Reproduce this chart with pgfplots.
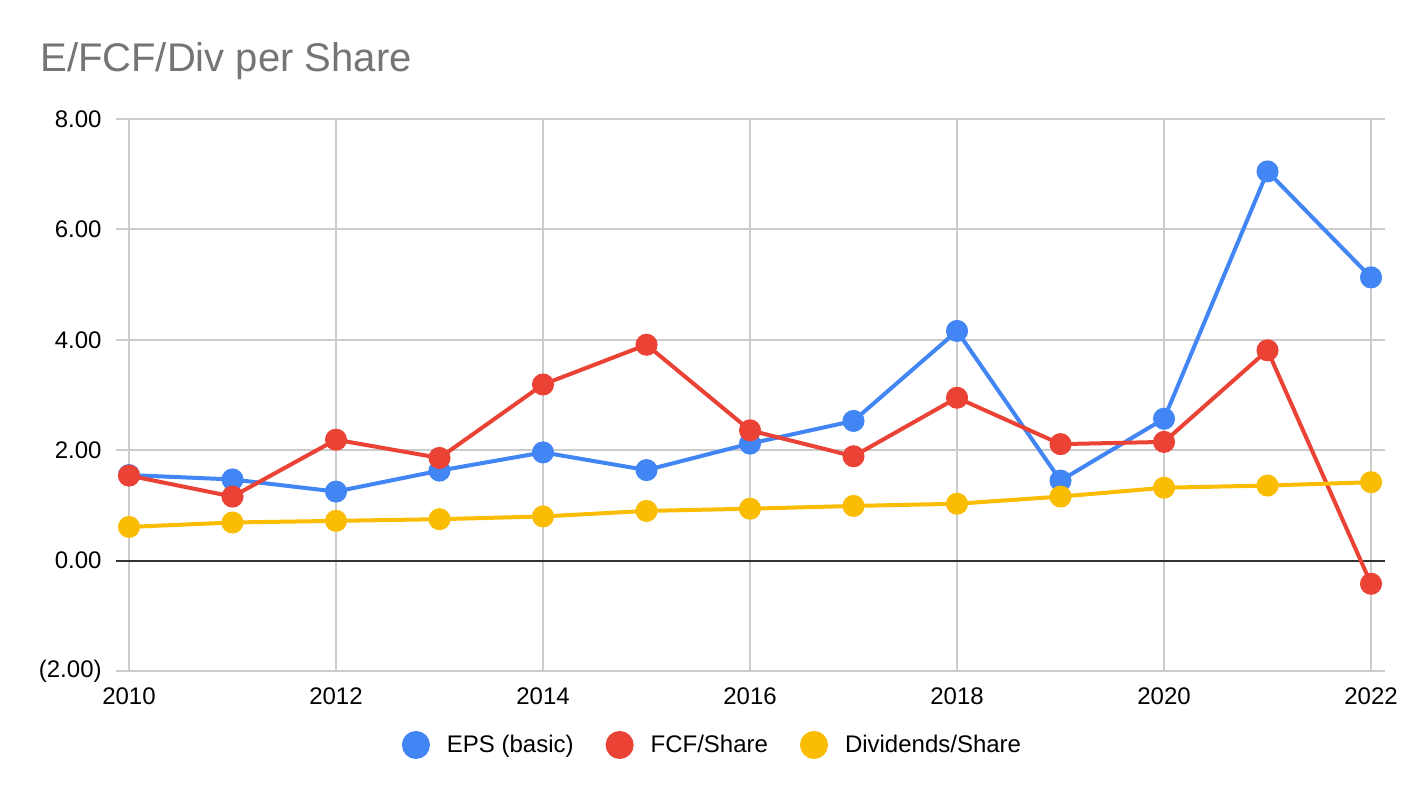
\documentclass[border=0pt]{standalone}
\usepackage{pgfplots}
\pgfplotsset{compat=1.18}
\usepackage{fontspec}
\setmainfont{Liberation Sans}
\definecolor{eps}{HTML}{4285F4}
\definecolor{fcf}{HTML}{EA4335}
\definecolor{divc}{HTML}{FBBC04}
\definecolor{gridc}{HTML}{CCCCCC}
\definecolor{titlec}{HTML}{757575}
\definecolor{zeroc}{HTML}{333333}
\begin{document}
\begin{tikzpicture}
\fill[white] (0,0) rectangle (712pt,399pt);
\node[anchor=base west, inner sep=0pt, text=titlec, font=\fontsize{20}{24}\selectfont] at (20pt,363.15pt) {E/FCF/Div per Share};
\begin{axis}[
  at={(57.85pt,63.5pt)}, anchor=south west,
  scale only axis, width=634.65pt, height=276pt,
  xmin=2009.8715, xmax=2022.135, ymin=-2, ymax=8,
  clip=false,
  axis line style={draw=none},
  major tick length=0pt,
  tick style={draw=none},
  xtick={2010,2012,2014,2016,2018,2020,2022},
  xticklabels={2010,2012,2014,2016,2018,2020,2022},
  ytick={-2,0,2,4,6,8},
  yticklabels={(2.00),0.00,2.00,4.00,6.00,8.00},
  extra y ticks={0},
  extra y tick labels={},
  extra y tick style={grid style={draw=zeroc, line width=1pt}},
  grid=major,
  grid style={draw=gridc, line width=1pt},
  ticklabel style={font=\fontsize{12}{14}\selectfont},
  yticklabel style={anchor=east, inner sep=0pt, xshift=-6.85pt},
  xticklabel style={anchor=north, inner sep=0pt, yshift=-8pt},
  legend columns=3,
  legend style={draw=none, fill=none, at={(0.4694,-0.134)}, anchor=center,
    font=\fontsize{12}{14}\selectfont,
    nodes={inner sep=0pt},
    cells={anchor=west},
    /tikz/every odd column/.append style={column sep=8.5pt},
    /tikz/every even column/.append style={column sep=16pt}},
  legend image code/.code={\fill (0pt,0pt) circle (6pt);},
]
\addplot[color=eps, line width=2pt, mark=*, mark size=4.5pt] coordinates {
(2010,1.55) (2011,1.47) (2012,1.25) (2013,1.63) (2014,1.96) (2015,1.64) (2016,2.12)
(2017,2.53) (2018,4.16) (2019,1.45) (2020,2.57) (2021,7.05) (2022,5.13)};
\addlegendentry{EPS (basic)}
\addplot[color=fcf, line width=2pt, mark=*, mark size=4.5pt] coordinates {
(2010,1.54) (2011,1.16) (2012,2.19) (2013,1.86) (2014,3.19) (2015,3.91) (2016,2.36)
(2017,1.89) (2018,2.95) (2019,2.11) (2020,2.15) (2021,3.81) (2022,-0.42)};
\addlegendentry{FCF/Share}
\addplot[color=divc, line width=2pt, mark=*, mark size=4.5pt] coordinates {
(2010,0.61) (2011,0.69) (2012,0.72) (2013,0.75) (2014,0.80) (2015,0.90) (2016,0.94)
(2017,0.99) (2018,1.03) (2019,1.16) (2020,1.32) (2021,1.36) (2022,1.42)};
\addlegendentry{Dividends/Share}
\end{axis}
\end{tikzpicture}
\end{document}
